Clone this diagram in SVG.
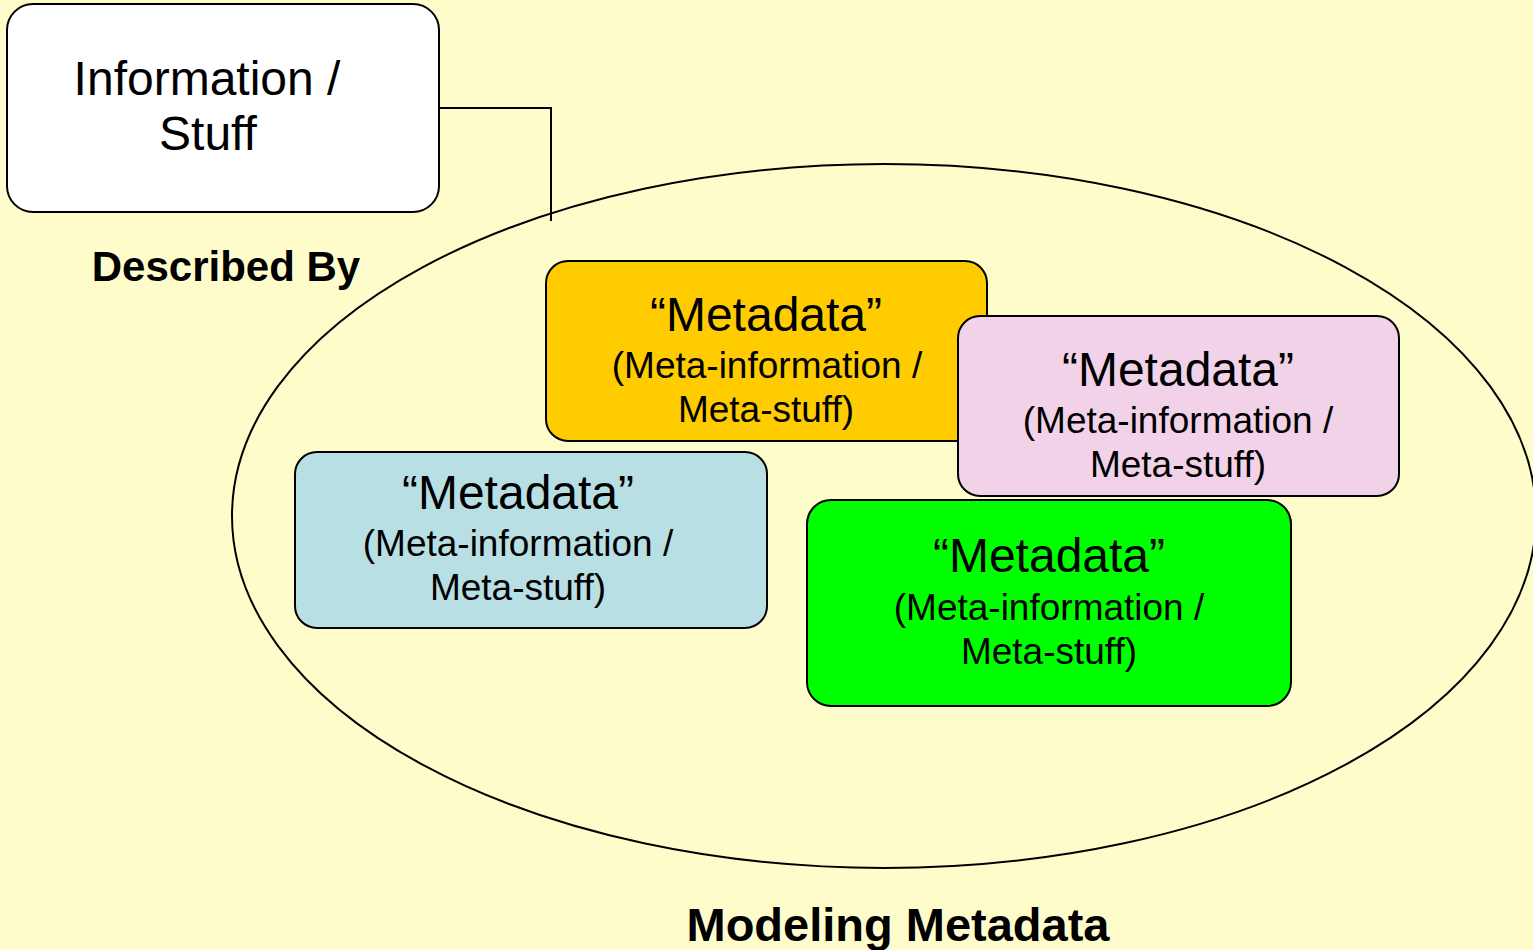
<svg xmlns="http://www.w3.org/2000/svg" width="1533" height="950" viewBox="0 0 1533 950">
<style>
text{font-family:"Liberation Sans",Arial,sans-serif;fill:#000;text-anchor:middle}
.box{stroke:#000;stroke-width:2}
.t1{font-size:48px}
.t2{font-size:37px}
.b{font-weight:bold;font-size:42px}
.line{fill:none;stroke:#000;stroke-width:2}
</style>
<rect width="1533" height="950" fill="#FFFCCC"/>
<g id="container">
<ellipse cx="884" cy="516" rx="652" ry="352" fill="#FFFCCC" stroke="#000" stroke-width="2"/>
</g>
<g id="connectors">
<polyline class="line" points="439,108 551,108 551,221"/>
</g>
<g id="info">
<rect class="box" x="7" y="4" width="432" height="208" rx="26" fill="#FFFFFF"/>
<text class="t1" x="207" y="95">Information /</text>
<text class="t1" x="208" y="150">Stuff</text>
</g>
<g id="described-by">
<text class="b" x="226" y="281">Described By</text>
</g>
<g id="meta-orange">
<rect class="box" x="546" y="261" width="441" height="180" rx="22" fill="#FFCC00"/>
<text class="t1" x="766" y="331">“Metadata”</text>
<text class="t2" x="767" y="378">(Meta-information /</text>
<text class="t2" x="766" y="422">Meta-stuff)</text>
</g>
<g id="meta-pink">
<rect class="box" x="958" y="316" width="441" height="180" rx="22" fill="#F2D2E8"/>
<text class="t1" x="1178" y="386">“Metadata”</text>
<text class="t2" x="1178" y="433">(Meta-information /</text>
<text class="t2" x="1178" y="477">Meta-stuff)</text>
</g>
<g id="meta-blue">
<rect class="box" x="295" y="452" width="472" height="176" rx="22" fill="#B8DFE3"/>
<text class="t1" x="518" y="509">“Metadata”</text>
<text class="t2" x="518" y="556">(Meta-information /</text>
<text class="t2" x="518" y="600">Meta-stuff)</text>
</g>
<g id="meta-green">
<rect class="box" x="807" y="500" width="484" height="206" rx="24" fill="#00FF00"/>
<text class="t1" x="1049" y="572">“Metadata”</text>
<text class="t2" x="1049" y="620">(Meta-information /</text>
<text class="t2" x="1049" y="664">Meta-stuff)</text>
</g>
<g id="modeling-metadata">
<text class="b" x="898" y="941" style="font-size:47px">Modeling Metadata</text>
</g>
</svg>
